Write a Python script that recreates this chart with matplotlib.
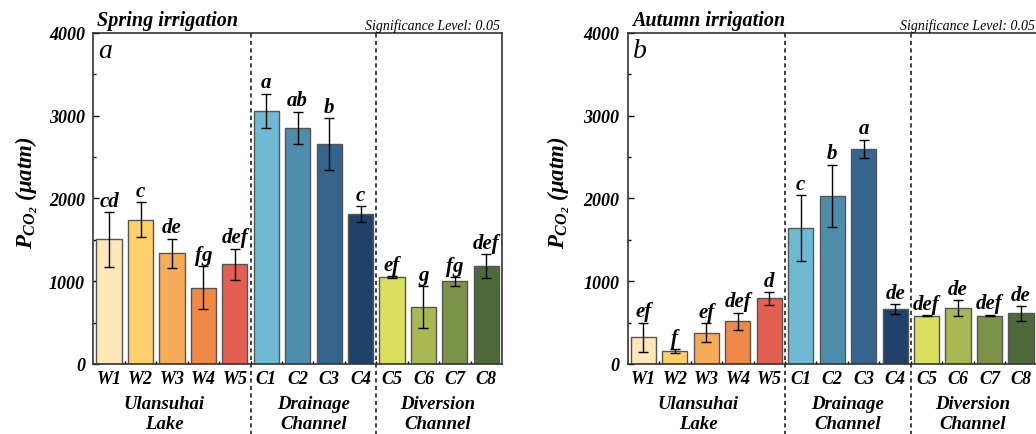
import matplotlib
matplotlib.use("Agg")
from matplotlib import pyplot as plt
import numpy as np

plt.rcParams['font.family'] = ['Liberation Serif', 'DejaVu Serif']
plt.rcParams['mathtext.fontset'] = 'custom'
plt.rcParams['mathtext.it'] = 'Liberation Serif:italic:bold'
plt.rcParams['mathtext.rm'] = 'Liberation Serif:italic:bold'
plt.rcParams['mathtext.bf'] = 'Liberation Serif:italic:bold'

sites = ["W1", "W2", "W3", "W4", "W5", "C1", "C2", "C3", "C4", "C5", "C6", "C7", "C8"]
groups = ["Ulansuhai\nLake", "Drainage\nChannel", "Diversion\nChannel"]
group_pos = [1.75, 6.5, 10.45]
colors = ["#FDE6B8", "#FDD06C", "#F6AB58", "#EE8A45", "#E25F52",
          "#6EBAD5", "#4E8CAC", "#35658F", "#20426A",
          "#D8E05E", "#A9B852", "#7D9249", "#4F6A3A"]

spring_mean = [1505, 1745, 1340, 922, 1204, 3060, 2855, 2655, 1815, 1050, 690, 1000, 1180]
spring_err = [330, 210, 175, 260, 190, 207, 195, 315, 97, 15, 250, 52, 143]
spring_sig = ["cd", "c", "de", "fg", "def", "a", "ab", "b", "c", "ef", "g", "fg", "def"]

autumn_mean = [323, 155, 378, 517, 792, 1638, 2034, 2597, 663, 585, 672, 585, 610]
autumn_err = [178, 20, 113, 103, 77, 398, 374, 113, 58, 8, 95, 10, 87]
autumn_sig = ["ef", "f", "ef", "def", "d", "c", "b", "a", "de", "def", "de", "def", "de"]

fig = plt.figure(figsize=(10.36, 4.35), dpi=100)


def draw_panel(ax, means, errs, sig, title, letter, ylab_x):
  x = np.arange(len(sites))
  ax.bar(x, means, width=0.8, color=colors, edgecolor="#555555", linewidth=1.0, zorder=2)
  ax.errorbar(x, means, yerr=errs, fmt="none", ecolor="black", elinewidth=1.0,
              capsize=3.5, capthick=1.0, zorder=3)
  for xi, m, e, s in zip(x, means, errs, sig):
    ax.text(xi, m + e + 15, s, ha="center", va="bottom", fontsize=15,
            fontweight="bold", style="italic", zorder=4)

  ax.set_xlim(-0.5, len(sites) - 0.5)
  ax.set_ylim(0, 4000)
  ax.set_yticks([0, 1000, 2000, 3000, 4000])
  ax.set_yticks([500, 1500, 2500, 3500], minor=True)
  ax.set_xticks(x)
  ax.set_xticklabels(sites)
  ax.set_xticks(np.arange(0.5, len(sites) - 1, 1.0), minor=True)
  ax.tick_params(axis="y", which="major", direction="in", length=4, width=1, pad=6, labelsize=13)
  ax.tick_params(axis="y", which="minor", direction="in", length=2.5, width=1)
  ax.tick_params(axis="x", which="major", length=0, pad=4, labelsize=13)
  ax.tick_params(axis="x", which="minor", direction="in", length=2.5, width=1)
  for lab in ax.get_xticklabels() + ax.get_yticklabels():
    lab.set_fontweight("bold")
    lab.set_style("italic")
  for sp in ax.spines.values():
    sp.set_linewidth(1.2)
    sp.set_color("#333333")

  # dashed separators between site groups
  for xv in [4.5, 8.5]:
    ax.axvline(xv, ymin=-0.215, ymax=1, color="#222222", linestyle=(0, (2.5, 2)),
               linewidth=1.2, clip_on=False, zorder=1)

  for gx, g in zip(group_pos, groups):
    ax.text(gx, -0.095, g, transform=ax.get_xaxis_transform(), ha="center", va="top",
            fontsize=13.5, fontweight="bold", style="italic", linespacing=1.2)

  ax.set_ylabel(r"$P_{CO_2}$ (μatm)", fontsize=16.5, fontweight="bold", style="italic")
  ax.yaxis.set_label_coords(ylab_x, 0.52)
  ax.text(0.01, 1.008, title, transform=ax.transAxes, ha="left", va="bottom",
          fontsize=14.5, fontweight="bold", style="italic")
  ax.text(0.995, 1.004, "Significance Level: 0.05", transform=ax.transAxes, ha="right",
          va="bottom", fontsize=10, style="italic")
  ax.text(0.012, 0.985, letter, transform=ax.transAxes, ha="left", va="top",
          fontsize=20, style="italic")


ax1 = fig.add_axes([0.0901, 0.161, 0.3945, 0.7609])
draw_panel(ax1, spring_mean, spring_err, spring_sig, "Spring irrigation", "a", -0.13)

ax2 = fig.add_axes([0.6059, 0.161, 0.3948, 0.7609])
draw_panel(ax2, autumn_mean, autumn_err, autumn_sig, "Autumn irrigation", "b", -0.135)

fig.savefig("out.png", dpi=100)
